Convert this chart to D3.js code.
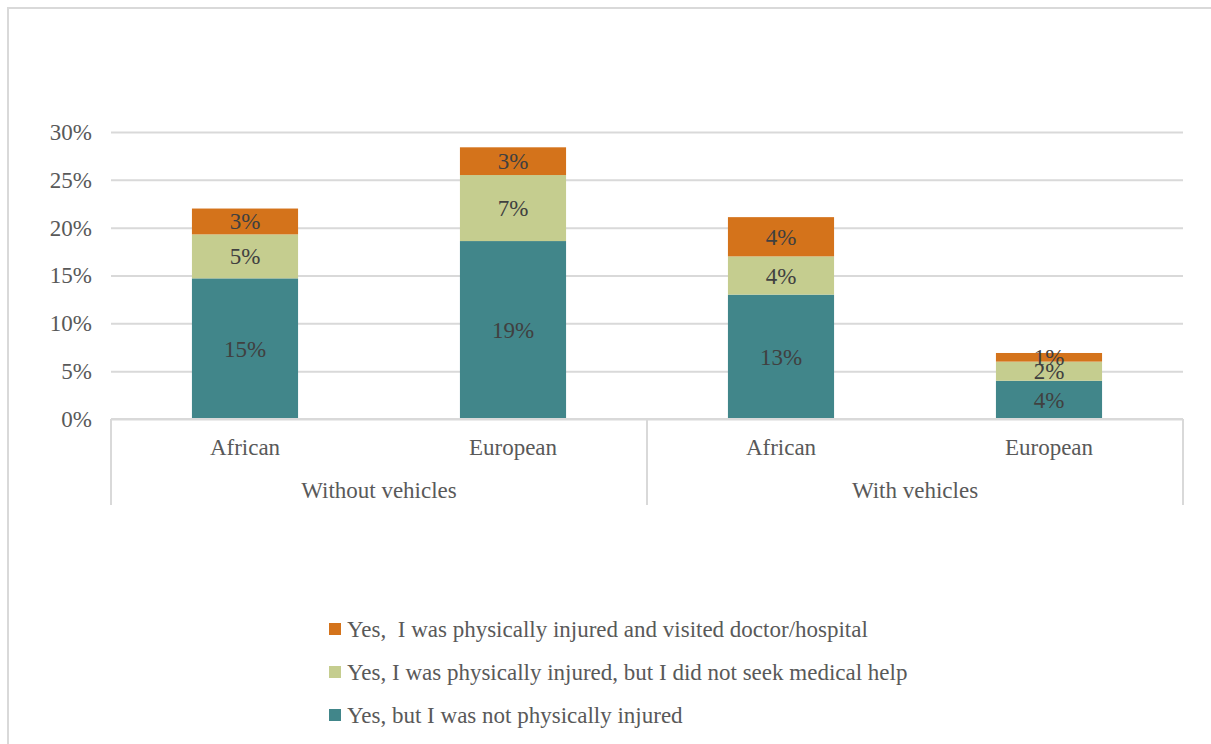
<!DOCTYPE html>
<html>
<head>
<meta charset="utf-8">
<script src="https://cdn.jsdelivr.net/npm/d3@7/dist/d3.min.js"></script>
<style>
  html, body { margin: 0; padding: 0; background: #fff; }
  svg { display: block; }
  text { font-family: "Liberation Serif", "DejaVu Serif", serif; }
</style>
</head>
<body>
<svg id="chart" width="1211" height="744"></svg>
<script>
// Categories: group / origin pairs along the x axis
const groups = ["Without vehicles", "With vehicles"];
const origins = ["African", "European", "African", "European"];

// Series (share of respondents), bottom to top of each stack
const seriesKeys = ["notInjured", "injuredNoHelp", "injuredDoctor"];
const seriesNames = [
  "Yes, but I was not physically injured",
  "Yes, I was physically injured, but I did not seek medical help",
  "Yes,  I was physically injured and visited doctor/hospital"
];
const notInjured    = [0.147, 0.186, 0.130, 0.040];
const injuredNoHelp = [0.046, 0.069, 0.040, 0.020];
const injuredDoctor = [0.027, 0.029, 0.041, 0.009];
const seriesColors = ["#41868A", "#C5CD8F", "#D4731B"];

// Y axis ticks
const yTicks = [0, 0.05, 0.10, 0.15, 0.20, 0.25, 0.30];

const rows = origins.map((o, i) => ({
  idx: i,
  notInjured: notInjured[i],
  injuredNoHelp: injuredNoHelp[i],
  injuredDoctor: injuredDoctor[i]
}));

const svg = d3.select("#chart");
const W = 1211, H = 744;
const plot = { left: 111, right: 1183, top: 132, bottom: 419 };
const labelGrey = "#595959";

// Chart area frame
svg.append("rect")
  .attr("x", 8).attr("y", 8)
  .attr("width", W + 20).attr("height", H + 20)
  .attr("fill", "none").attr("stroke", "#D9D9D9").attr("stroke-width", 2);

const x = d3.scaleBand()
  .domain(d3.range(origins.length))
  .range([plot.left, plot.right])
  .paddingInner(0.604).paddingOuter(0.302);

const y = d3.scaleLinear().domain([0, 0.30]).range([plot.bottom, plot.top]);

// Gridlines + tick labels
const yAxis = d3.axisLeft(y).tickValues(yTicks).tickFormat(d3.format(".0%"))
  .tickSize(-(plot.right - plot.left)).tickPadding(19);
const gy = svg.append("g").attr("transform", `translate(${plot.left},0)`).call(yAxis);
gy.select(".domain").remove();
gy.selectAll(".tick line").attr("stroke", "#D9D9D9").attr("stroke-width", 2);
gy.selectAll(".tick text")
  .attr("fill", labelGrey).attr("font-size", 23)
  .attr("font-family", "'Liberation Serif', serif");

// Stacked bars
const stacked = d3.stack().keys(seriesKeys)(rows);
const fmt = d3.format(".0%");

const layers = svg.append("g").selectAll("g")
  .data(stacked).join("g")
  .attr("fill", (d, i) => seriesColors[i]);

layers.selectAll("rect")
  .data(d => d).join("rect")
  .attr("x", d => x(d.data.idx))
  .attr("width", x.bandwidth())
  .attr("y", d => y(d[1]))
  .attr("height", d => y(d[0]) - y(d[1]));

layers.selectAll("text")
  .data(d => d.map(p => ({ p, key: d.key }))).join("text")
  .attr("x", d => x(d.p.data.idx) + x.bandwidth() / 2)
  .attr("y", d => (y(d.p[0]) + y(d.p[1])) / 2)
  .attr("dy", "0.35em")
  .attr("text-anchor", "middle")
  .attr("fill", "#404040")
  .attr("font-size", 23)
  .text(d => fmt(d.p.data[d.key]));

// Category axis: baseline + group dividers
const axisG = svg.append("g").attr("stroke", "#D9D9D9").attr("stroke-width", 2);
axisG.append("line")
  .attr("x1", plot.left).attr("x2", plot.right)
  .attr("y1", plot.bottom).attr("y2", plot.bottom);
const groupEdges = [plot.left, (x(1) + x(2) + x.bandwidth()) / 2, plot.right];
groupEdges.forEach(gx => {
  axisG.append("line")
    .attr("x1", gx).attr("x2", gx)
    .attr("y1", plot.bottom).attr("y2", 505);
});

// Category labels
svg.append("g").selectAll("text")
  .data(origins).join("text")
  .attr("x", (d, i) => x(i) + x.bandwidth() / 2)
  .attr("y", 447).attr("dy", "0.35em")
  .attr("text-anchor", "middle")
  .attr("fill", labelGrey).attr("font-size", 23)
  .text(d => d);

// Group labels
svg.append("g").selectAll("text")
  .data(groups).join("text")
  .attr("x", (d, gi) => (groupEdges[gi] + groupEdges[gi + 1]) / 2)
  .attr("y", 490).attr("dy", "0.35em")
  .attr("text-anchor", "middle")
  .attr("fill", labelGrey).attr("font-size", 23)
  .text(d => d);

// Legend (top item is the top of the stack)
const legendOrder = [2, 1, 0];
const legend = svg.append("g").selectAll("g")
  .data(legendOrder).join("g")
  .attr("transform", (d, i) => `translate(329,${629 + i * 43})`);
legend.append("rect")
  .attr("x", 0).attr("y", -6).attr("width", 12).attr("height", 12)
  .attr("fill", d => seriesColors[d]);
legend.append("text")
  .attr("x", 18).attr("y", 0).attr("dy", "0.35em")
  .attr("fill", labelGrey).attr("font-size", 23)
  .style("white-space", "pre")
  .text(d => seriesNames[d]);
</script>
</body>
</html>
